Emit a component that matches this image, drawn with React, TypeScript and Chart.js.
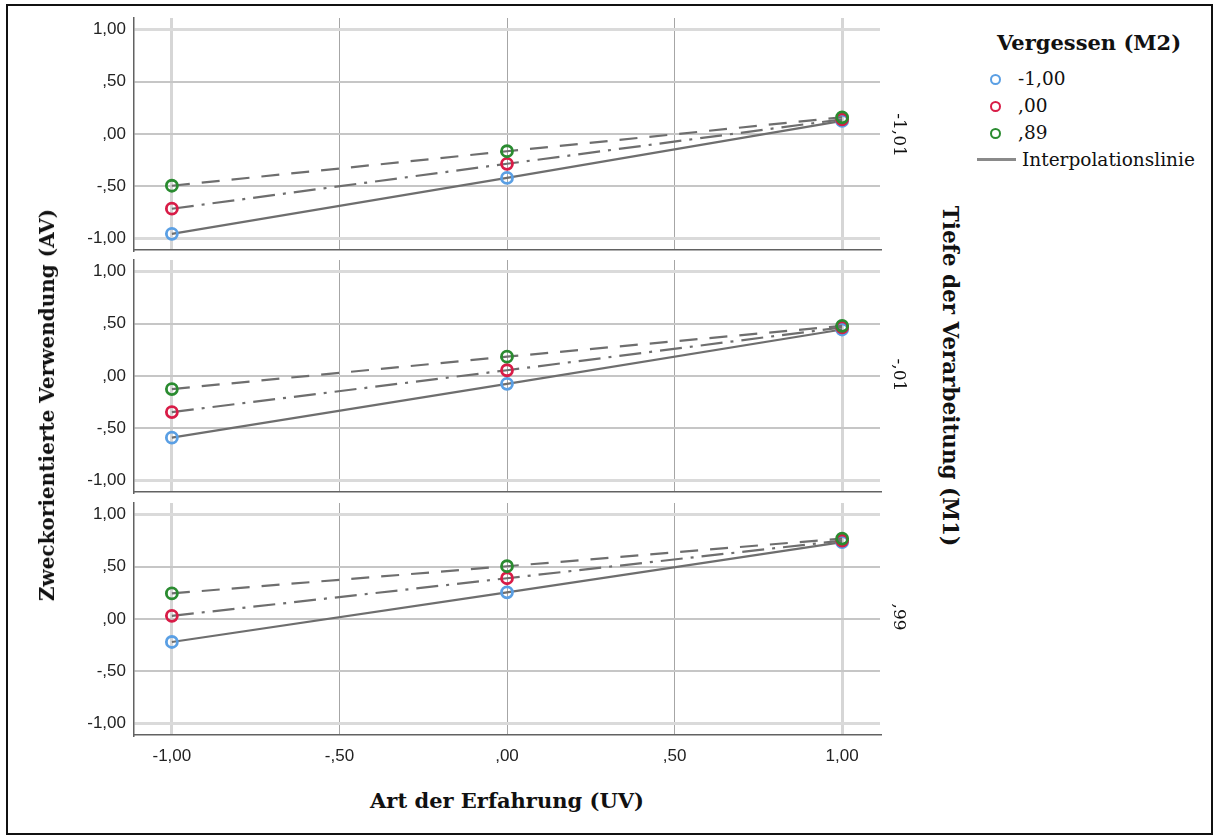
import React, { useEffect, useRef } from "react";
import { Chart, registerables } from "chart.js";

Chart.register(...registerables);

// Levels of "Art der Erfahrung (UV)" at which the cell means are plotted
const xLevels = [-1, 0, 1];

// Axis ticks and their SPSS-style labels
const xTickValues = [-1, -0.5, 0, 0.5, 1];
const xTickLabels = ["-1,00", "-,50", ",00", ",50", "1,00"];
const yTickValues = [-1, -0.5, 0, 0.5, 1];
const yTickLabels = ["-1,00", "-,50", ",00", ",50", "1,00"];

// Panels: levels of "Tiefe der Verarbeitung (M1)"
const panelLabels = ["-1,01", "-,01", ",99"];
// Series: levels of "Vergessen (M2)"
const seriesLabels = ["-1,00", ",00", ",89"];

// M1 = -1,01
const m1LowForgetLow = [-0.955, -0.42, 0.125];
const m1LowForgetMid = [-0.715, -0.285, 0.14];
const m1LowForgetHigh = [-0.495, -0.165, 0.16];

// M1 = -,01
const m1MidForgetLow = [-0.59, -0.075, 0.445];
const m1MidForgetMid = [-0.345, 0.055, 0.465];
const m1MidForgetHigh = [-0.125, 0.185, 0.48];

// M1 = ,99
const m1HighForgetLow = [-0.22, 0.255, 0.735];
const m1HighForgetMid = [0.03, 0.39, 0.75];
const m1HighForgetHigh = [0.245, 0.505, 0.77];

const panelSeries = [
  [m1LowForgetLow, m1LowForgetMid, m1LowForgetHigh],
  [m1MidForgetLow, m1MidForgetMid, m1MidForgetHigh],
  [m1HighForgetLow, m1HighForgetMid, m1HighForgetHigh],
];

const X_MIN = -1.113;
const X_MAX = 1.113;
const Y_MIN = -1.11;
const Y_MAX = 1.11;

const markerColors = ["#5a9fe4", "#d81c47", "#2a8b30"];
const lineDashes: number[][] = [[], [22, 8, 3, 8], [18, 12]];
const LINE_COLOR = "#6e6e6e";

const SANS = '"Liberation Sans", Arial, sans-serif';
const SERIF = '"DejaVu Serif", serif';

const CANVAS_W = 900;
const AXIS_W = 134;
const PAD_TOP = 10;
const AREA_H = 232;
const X_LABEL_H = 40;

const zeroPadding = (s: any) => {
  s.paddingTop = 0;
  s.paddingBottom = 0;
  s.paddingLeft = 0;
  s.paddingRight = 0;
};

function Panel({ index, top }: { index: number; top: number }) {
  const ref = useRef<HTMLCanvasElement>(null);
  const showX = index === panelSeries.length - 1;
  const height = PAD_TOP + AREA_H + (showX ? X_LABEL_H : 10);

  useEffect(() => {
    const series = panelSeries[index];
    const datasets = series.map((vals, s) => ({
      label: seriesLabels[s],
      data: xLevels.map((x, i) => ({ x, y: vals[i] })),
      borderColor: LINE_COLOR,
      borderWidth: 2.2,
      borderDash: lineDashes[s],
      tension: 0,
      fill: false,
      pointStyle: "circle" as const,
      pointRadius: 5.5,
      pointBorderWidth: 2.8,
      pointBorderColor: markerColors[s],
      pointBackgroundColor: "rgba(0,0,0,0)",
      order: series.length - s,
    }));

    const edge = (v: number | undefined) => v === -1 || v === 1;

    const chart = new Chart(ref.current as HTMLCanvasElement, {
      type: "line",
      data: { datasets },
      options: {
        animation: false,
        responsive: false,
        maintainAspectRatio: false,
        events: [],
        layout: {
          padding: { top: PAD_TOP, right: 20, bottom: showX ? 0 : 10, left: 0 },
        },
        plugins: {
          legend: { display: false },
          tooltip: { enabled: false },
        },
        scales: {
          x: {
            type: "linear",
            min: X_MIN,
            max: X_MAX,
            afterBuildTicks: (s: any) => {
              s.ticks = xTickValues.map((value) => ({ value }));
            },
            afterFit: (s: any) => {
              s.height = showX ? X_LABEL_H : 0;
              zeroPadding(s);
            },
            grid: {
              drawTicks: false,
              color: (ctx: any) => (edge(ctx.tick?.value) ? "#d6d6d6" : "#a6a6a6"),
              lineWidth: (ctx: any) => (edge(ctx.tick?.value) ? 3 : 1),
            },
            border: { display: true, color: "#626262", width: 1.5 },
            ticks: {
              display: showX,
              padding: 11,
              color: "#222222",
              font: { family: SANS, size: 17 },
              callback: (v: any) => xTickLabels[xTickValues.indexOf(Number(v))],
            },
          },
          y: {
            type: "linear",
            min: Y_MIN,
            max: Y_MAX,
            afterBuildTicks: (s: any) => {
              s.ticks = yTickValues.map((value) => ({ value }));
            },
            afterFit: (s: any) => {
              s.width = AXIS_W;
              zeroPadding(s);
            },
            grid: {
              drawTicks: false,
              color: (ctx: any) => (edge(ctx.tick?.value) ? "#dadada" : "#c6c6c6"),
              lineWidth: (ctx: any) => (edge(ctx.tick?.value) ? 3 : 2),
            },
            border: { display: true, color: "#626262", width: 1.5 },
            ticks: {
              padding: 8,
              color: "#222222",
              font: { family: SANS, size: 17 },
              callback: (v: any) => yTickLabels[yTickValues.indexOf(Number(v))],
            },
          },
        },
      },
    });
    return () => chart.destroy();
  }, [index, showX]);

  return (
    <canvas
      ref={ref}
      width={CANVAS_W}
      height={height}
      style={{ position: "absolute", left: 0, top, width: CANVAS_W, height }}
    />
  );
}

const rotated = (
  text: string,
  cx: number,
  cy: number,
  deg: number,
  style: React.CSSProperties
) => (
  <div
    style={{
      position: "absolute",
      left: cx,
      top: cy,
      transform: `translate(-50%, -50%) rotate(${deg}deg)`,
      whiteSpace: "nowrap",
      lineHeight: 1,
      color: "#111",
      ...style,
    }}
  >
    {text}
  </div>
);

const panelTops = [8, 250, 493];
const panelCenters = [135, 375, 617];

export default function App() {
  return (
    <div
      style={{
        position: "absolute",
        left: 0,
        top: 0,
        width: 1214,
        height: 837,
        background: "#ffffff",
        overflow: "hidden",
      }}
    >
      <div
        style={{
          position: "absolute",
          left: 6,
          top: 4,
          width: 1207,
          height: 831,
          border: "2px solid #111",
          boxSizing: "border-box",
        }}
      />
      {panelTops.map((t, i) => (
        <Panel key={i} index={i} top={t} />
      ))}

      {rotated("Zweckorientierte Verwendung (AV)", 47, 405, -90, {
        fontFamily: SERIF,
        fontWeight: "bold",
        fontSize: 20,
      })}
      {rotated("Tiefe der Verarbeitung (M1)", 950, 376, 90, {
        fontFamily: SERIF,
        fontWeight: "bold",
        fontSize: 21.5,
      })}
      {panelLabels.map((p, i) => (
        <React.Fragment key={p}>
          {rotated(p, 899, panelCenters[i], 90, { fontFamily: SERIF, fontSize: 17 })}
        </React.Fragment>
      ))}
      {rotated("Art der Erfahrung (UV)", 507, 800, 0, {
        fontFamily: SERIF,
        fontWeight: "bold",
        fontSize: 21,
      })}

      {/* legend */}
      <div
        style={{
          position: "absolute",
          left: 997,
          top: 31,
          fontFamily: SERIF,
          fontWeight: "bold",
          fontSize: 21,
          lineHeight: "24px",
          whiteSpace: "nowrap",
          color: "#111",
        }}
      >
        Vergessen (M2)
      </div>
      {seriesLabels.map((lab, i) => (
        <React.Fragment key={lab}>
          <div
            style={{
              position: "absolute",
              left: 990,
              top: 74 + i * 27,
              width: 11,
              height: 11,
              borderRadius: "50%",
              border: `2.8px solid ${markerColors[i]}`,
              boxSizing: "border-box",
            }}
          />
          <div
            style={{
              position: "absolute",
              left: 1018,
              top: 68 + i * 27,
              fontFamily: SERIF,
              fontSize: 18.5,
              lineHeight: "22px",
              whiteSpace: "nowrap",
              color: "#111",
            }}
          >
            {lab}
          </div>
        </React.Fragment>
      ))}
      <div
        style={{
          position: "absolute",
          left: 977,
          top: 158,
          width: 39,
          height: 3,
          background: "#8a8a8a",
        }}
      />
      <div
        style={{
          position: "absolute",
          left: 1022,
          top: 149,
          fontFamily: SERIF,
          fontSize: 18.5,
          lineHeight: "22px",
          whiteSpace: "nowrap",
          color: "#111",
        }}
      >
        Interpolationslinie
      </div>
    </div>
  );
}
